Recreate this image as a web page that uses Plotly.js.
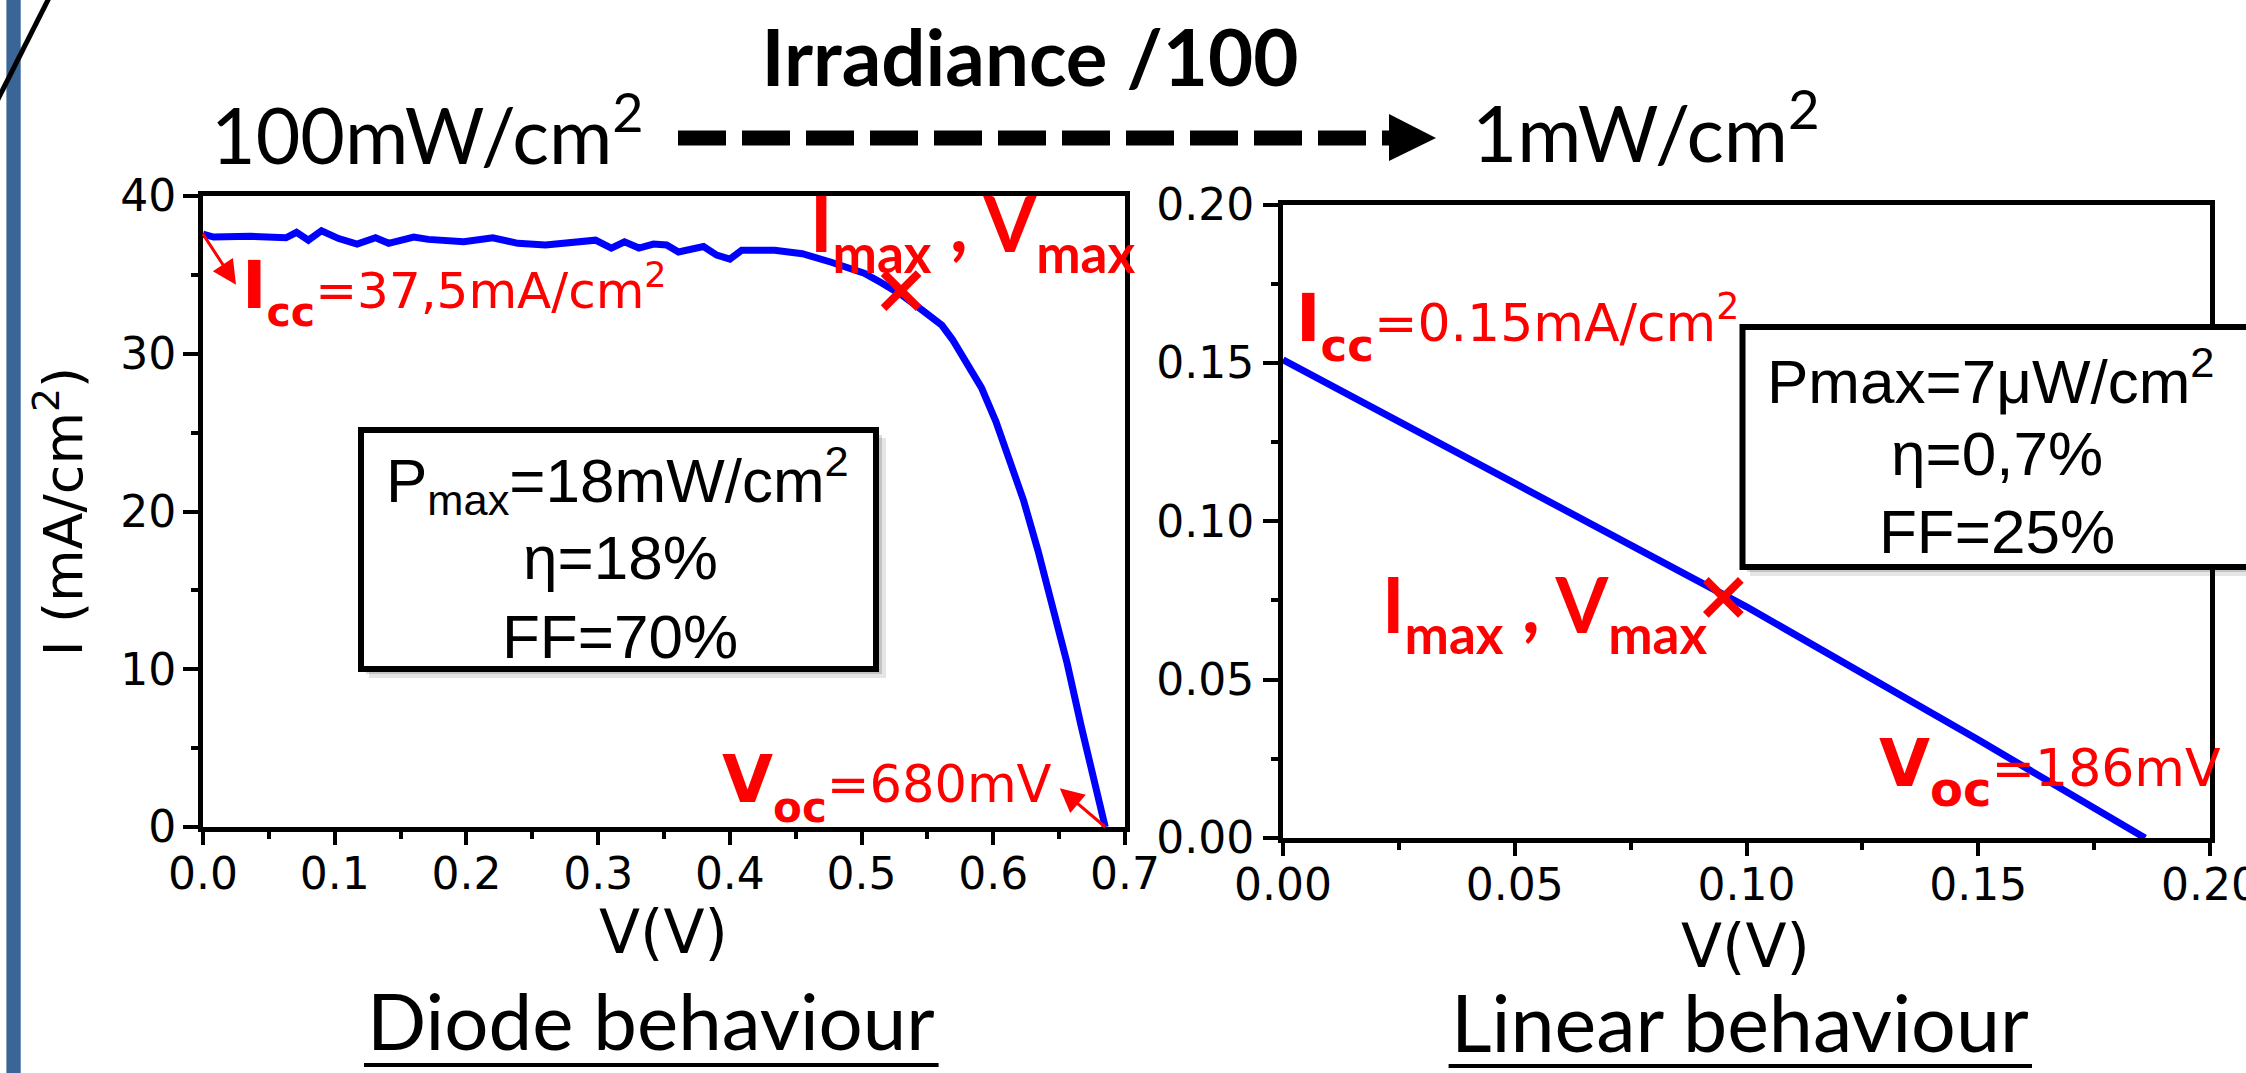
<!DOCTYPE html>
<html><head><meta charset="utf-8">
<script src="https://cdn.plot.ly/plotly-3.0.1.min.js"></script>
<style>html,body{margin:0;padding:0;background:#fff;overflow:hidden}#chart{width:2246px;height:1073px}</style>
</head><body><div id="chart"></div>
<script>
// ---------------- data ----------------
const diodeV = [0.000,0.008,0.036,0.063,0.071,0.080,0.090,0.103,0.117,0.131,
                0.141,0.160,0.171,0.198,0.220,0.239,0.260,0.271,0.298,0.310,
                0.320,0.331,0.342,0.352,0.361,0.380,0.390,0.400,0.409,0.434,
                0.455,0.477,0.502,0.515,0.531,0.547,0.561,0.569,0.580,0.591,
                0.602,0.613,0.623,0.634,0.645,0.656,0.667,0.678,0.685];
const diodeI = [37.58,37.40,37.45,37.35,37.70,37.20,37.80,37.30,36.95,37.35,
                37.00,37.40,37.25,37.10,37.35,37.00,36.90,37.00,37.20,36.70,
                37.10,36.70,36.95,36.90,36.45,36.80,36.25,36.00,36.56,36.56,
                36.34,35.80,35.10,34.50,33.70,32.70,31.80,30.90,29.30,27.85,
                25.70,23.20,20.70,17.50,14.00,10.40,6.30,2.25,0.00];
const linearV = [0, 0.05, 0.10, 0.15, 0.186];
const linearI = [0.151, 0.112, 0.073, 0.031, 0];
const diodeMaxV = [0.53];
const diodeMaxI = [34.0];
const linearMaxV = [0.095];
const linearMaxI = [0.076];

const diodeXTicks = [0, 0.1, 0.2, 0.3, 0.4, 0.5, 0.6, 0.7];
const diodeXLabels = ['0.0','0.1','0.2','0.3','0.4','0.5','0.6','0.7'];
const diodeYTicks = [0, 10, 20, 30, 40];
const diodeYLabels = ['0','10','20','30','40'];
const linearTicks = [0, 0.05, 0.10, 0.15, 0.20];
const linearLabels = ['0.00','0.05','0.10','0.15','0.20'];

// ---------------- helpers ----------------
const W = 2246, H = 1073;
const DV = 'DejaVu Sans', LATO = 'Lato', LIB = 'Liberation Sans';
const RED = '#ff0000';
const PX = x => x / W, PY = y => 1 - y / H;
function txt(text, x, base, size, fam, o) {
  o = o || {};
  const k = fam === LATO ? 0.387 : 0.346;
  const yc = (o.center !== undefined) ? o.center : (base - k * size);
  return {xref:'paper', yref:'paper', x: PX(x), y: PY(yc),
    xanchor: o.xanchor || 'left', yanchor: 'middle', showarrow: false,
    text: text, font: {family: fam, size: size, color: o.color || 'black'}};
}
function rect(x0, y0, x1, y1, fill, lw, lc) {
  return {type:'rect', xref:'paper', yref:'paper', x0:PX(x0), x1:PX(x1), y0:PY(y0), y1:PY(y1),
    fillcolor: fill, line:{width: lw, color: lc || 'black'}, layer:'above'};
}
function hline(x0, y0, x1, y1, w, color, dash) {
  const s = {type:'line', xref:'paper', yref:'paper', x0:PX(x0), x1:PX(x1), y0:PY(y0), y1:PY(y1),
    line:{width: w, color: color || 'black'}, layer:'above'};
  if (dash) s.line.dash = dash;
  return s;
}
function axis(domain, range, vals, labels, minorDtick, len, anchor, standoff) {
  return {domain: domain, range: range, anchor: anchor, showline: true, linewidth: 5, linecolor: 'black',
    mirror: true, ticks: 'outside', ticklen: len, tickwidth: 4, tickcolor: 'black',
    tickmode: 'array', tickvals: vals, ticktext: labels, ticklabeloverflow: 'allow',
    ticklabelstandoff: standoff,
    tickfont: {family: DV, size: 44, color: 'black'},
    minor: {ticks: 'outside', ticklen: 7, tickwidth: 4, tickcolor: 'black', dtick: minorDtick, tick0: 0},
    showgrid: false, zeroline: false, fixedrange: true};
}
// label with a big bold main letter and a bold, lowered subscript
function subLabel(main, mainSize, sub, subSize, drop, rest) {
  return '<span style="font-size:' + mainSize + 'px;font-weight:bold">' + main + '</span>' +
         '<span style="font-size:' + subSize + 'px;font-weight:bold;baseline-shift:-' + drop + 'px">' + sub + '</span>' + rest;
}

// ---------------- traces ----------------
const traces = [
  {x: diodeV, y: diodeI, xaxis:'x', yaxis:'y', mode:'lines', line:{color:'#0000ff', width:7}, hoverinfo:'skip'},
  {x: linearV, y: linearI, xaxis:'x2', yaxis:'y2', mode:'lines', line:{color:'#0000ff', width:7}, hoverinfo:'skip'},
  {x: diodeMaxV, y: diodeMaxI, xaxis:'x', yaxis:'y', mode:'markers',
   marker:{symbol:'x-thin', size:35, color:RED, line:{color:RED, width:8}}, hoverinfo:'skip'},
  {x: linearMaxV, y: linearMaxI, xaxis:'x2', yaxis:'y2', mode:'markers',
   marker:{symbol:'x-thin', size:35, color:RED, line:{color:RED, width:8}}, hoverinfo:'skip'}
];

// ---------------- layout ----------------
const xa = axis([PX(203), PX(1125)], [0, 0.7], diodeXTicks, diodeXLabels, 0.05, 13, 'y', -9);
const ya = axis([PY(827), PY(196)], [0, 40], diodeYTicks, diodeYLabels, 5, 15, 'x', -2);
ya.title = {text:'I (mA/cm<sup>2</sup>)', font:{family: DV, size: 54, color:'black'}, standoff: 22};
const xa2 = axis([PX(1283), PX(2210)], [0, 0.2], linearTicks, linearLabels, 0.025, 13, 'y2', -9);
const ya2 = axis([PY(838), PY(204.6)], [0, 0.2], linearTicks, linearLabels, 0.025, 15, 'x2', 0);

const shapes = [
  rect(6.4, -10, 20.7, 1090, '#3a6597', 0),
  hline(-6, 107, 52, -8, 5, 'black'),
  hline(678, 138, 1390, 138, 15, 'black', '48px,16px'),
  {type:'path', xref:'paper', yref:'paper', layer:'above', fillcolor:'black', line:{width:0},
   path: 'M ' + PX(1389) + ',' + PY(114) + ' L ' + PX(1436) + ',' + PY(138) + ' L ' + PX(1389) + ',' + PY(161) + ' Z'},
  // left box with shadow
  rect(369, 438, 886, 678, 'rgba(0,0,0,0.10)', 0),
  rect(366, 435, 882, 674, 'rgba(0,0,0,0.14)', 0),
  rect(361, 430, 876, 669, 'white', 6),
  // right box with shadow
  rect(1750, 335, 2270, 576, 'rgba(0,0,0,0.10)', 0),
  rect(1747, 332, 2270, 572, 'rgba(0,0,0,0.14)', 0),
  rect(1742.5, 327, 2270, 567, 'white', 6),
  // underlines
  hline(364, 1065, 938.6, 1065, 4, 'black'),
  hline(1448.6, 1066, 2032, 1066, 4, 'black')
];

const annotations = [
  // top
  txt('100mW/cm<sup>2</sup>', 209, 159, 77, LATO),
  txt('1mW/cm<sup>2</sup>', 1470, 157, 78, LATO),
  // axis titles V(V)
  txt('V(V)', 663, 953, 60, DV, {xanchor:'center'}),
  txt('V(V)', 1745, 967, 60, DV, {xanchor:'center'}),
  // bottom captions
  txt('Diode behaviour', 651, 1050.5, 78, LATO, {xanchor:'center'}),
  txt('Linear behaviour', 1740, 1052, 79, LATO, {xanchor:'center'}),
  // left red labels
  txt(subLabel('I', 66, 'cc', 41, 18, '=37,5mA/cm<sup>2</sup>'), 240, 308, 50, DV, {color:RED, center:291.5}),
  txt(subLabel('V', 66, 'oc', 42, 20, '=680mV'), 720, 802, 51, DV, {color:RED, center:786.5}),
  txt(subLabel('I', 76, 'max', 53, 21, '') + '<b> , </b>' + subLabel('V', 76, 'max', 53, 21, ''),
      808, 252, 76, LATO, {color:RED, center:230.5}),
  // right red labels
  txt(subLabel('I', 66, 'cc', 45, 20, '=0.15mA/cm<sup>2</sup>'), 1294, 341, 52, DV, {color:RED, center:325.8}),
  txt(subLabel('V', 66, 'oc', 48, 20, '=186mV'), 1877, 786, 52, DV, {color:RED, center:771}),
  txt(subLabel('I', 76, 'max', 53, 21, '') + '<b> , </b>' + subLabel('V', 76, 'max', 53, 21, ''),
      1380, 632.6, 76, LATO, {color:RED, center:611}),
  // boxes
  txt('P<sub>max</sub>=18mW/cm<sup>2</sup>', 617, 502, 62, LIB, {xanchor:'center'}),
  txt('\u03b7=18%', 620, 579, 62, LIB, {xanchor:'center'}),
  txt('FF=70%', 620, 658, 62, LIB, {xanchor:'center'}),
  txt('Pmax=7\u03bcW/cm<sup>2</sup>', 1990, 398, 62, LIB, {xanchor:'center'}),
  txt('\u03b7=0,7%', 1997, 475, 62, LIB, {xanchor:'center'}),
  txt('FF=25%', 1997, 553, 62, LIB, {xanchor:'center'}),
  // arrows (head on the label side)
  {xref:'x', yref:'y', x: diodeV[0], y: diodeI[0], ax: 34, ay: 52, text:'', showarrow:true,
   arrowside:'start', startarrowhead:2, startarrowsize:1.6, arrowwidth:3, arrowcolor:RED, standoff:0, startstandoff:0},
  {xref:'x', yref:'y', x: diodeV[diodeV.length-1], y: diodeI[diodeI.length-1], ax: -47, ay: -40, text:'', showarrow:true,
   arrowside:'start', startarrowhead:2, startarrowsize:1.6, arrowwidth:3, arrowcolor:RED, standoff:0, startstandoff:0}
];

const layout = {
  width: W, height: H, margin: {l:0, r:0, t:0, b:0, pad:0},
  paper_bgcolor:'white', plot_bgcolor:'white', showlegend:false, hovermode:false,
  title: {text:'<b>Irradiance /100</b>', font:{family: LATO, size: 78, color:'black'},
          xref:'container', yref:'container', x: PX(1030), xanchor:'center',
          y: PY(86 - 0.35*78), yanchor:'middle'},
  xaxis: xa, yaxis: ya, xaxis2: xa2, yaxis2: ya2,
  shapes: shapes, annotations: annotations
};

Plotly.newPlot('chart', traces, layout, {displayModeBar:false, staticPlot:true});
</script></body></html>
